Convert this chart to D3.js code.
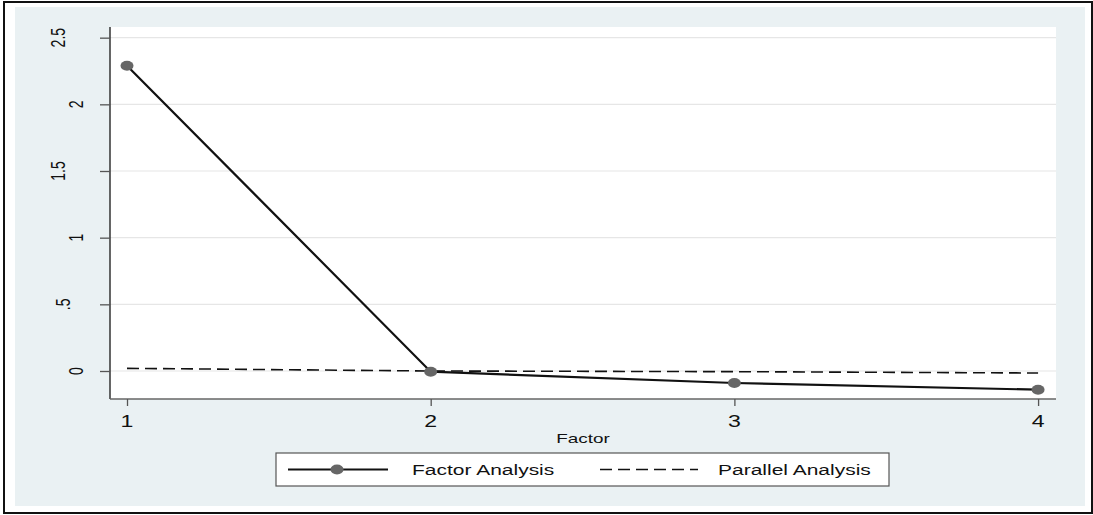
<!DOCTYPE html>
<html>
<head>
<meta charset="utf-8">
<script src="https://cdn.jsdelivr.net/npm/d3@7"></script>
<style>
  body { margin: 0; background: #fff; }
  text { font-family: "Liberation Sans", Arial, sans-serif; fill: #111; }
</style>
</head>
<body>
<svg id="chart" width="1093" height="515"></svg>
<script>
let factors = [1, 2, 3, 4];
let factorAnalysis = [2.29, -0.005, -0.09, -0.14];
let parallelAnalysis = [0.02, 0.0, -0.005, -0.015];
let yTicks = [0, 0.5, 1, 1.5, 2, 2.5];
let yTickLabels = ["0", ".5", "1", "1.5", "2", "2.5"];
let legendLabels = ["Factor Analysis", "Parallel Analysis"];

let svg = d3.select("#chart");
let stretch = 1.4; // glyphs in the picture are wider than tall

// outer frame + graph region
svg.append("rect").attr("x", 4).attr("y", 2).attr("width", 1088).attr("height", 511)
    .attr("fill", "#fff").attr("stroke", "#111").attr("stroke-width", 2);
svg.append("rect").attr("x", 15).attr("y", 7).attr("width", 1070).attr("height", 499)
    .attr("fill", "#eaf1f3");

let plot = {left: 110, right: 1056, top: 27, bottom: 399};

let x = d3.scaleLinear().domain([0.944, 4.059]).range([plot.left, plot.right]);
let y = d3.scaleLinear().domain([-0.21, 2.58]).range([plot.bottom, plot.top]);

svg.append("rect")
    .attr("x", plot.left).attr("y", plot.top)
    .attr("width", plot.right - plot.left).attr("height", plot.bottom - plot.top)
    .attr("fill", "#fff");

// gridlines
svg.selectAll(".grid").data(yTicks).enter().append("line")
    .attr("x1", plot.left).attr("x2", plot.right)
    .attr("y1", d => y(d)).attr("y2", d => y(d))
    .attr("stroke", "#e6e6e6").attr("stroke-width", 1.2);

// y axis
let yAxis = svg.append("g").attr("transform", "translate(" + plot.left + ",0)")
    .call(d3.axisLeft(y).tickValues(yTicks).tickSize(10).tickSizeOuter(0).tickFormat(""));
yAxis.select(".domain").attr("stroke", "#333").attr("stroke-width", 1.5)
    .attr("d", "M0," + plot.top + "V" + plot.bottom);
yAxis.selectAll(".tick line").attr("stroke", "#555").attr("stroke-width", 1.3);

svg.selectAll(".ylab").data(yTicks).enter().append("text")
    .attr("transform", function(d, i) {
      let lab = yTickLabels[i];
      let cx = lab.length === 1 ? 83 : lab.length === 2 ? 70 : 65;
      return "translate(" + cx + "," + y(d) + ") scale(" + stretch + ",1) rotate(-90)";
    })
    .attr("text-anchor", "middle")
    .style("font-size", "14px")
    .text((d, i) => yTickLabels[i]);

// x axis
let xAxis = svg.append("g").attr("transform", "translate(0," + plot.bottom + ")")
    .call(d3.axisBottom(x).tickValues(factors).tickSize(7).tickSizeOuter(0).tickFormat(""));
xAxis.select(".domain").attr("stroke", "#666").attr("stroke-width", 1.5)
    .attr("d", "M" + plot.left + ",0H" + plot.right);
xAxis.selectAll(".tick line").attr("stroke", "#555").attr("stroke-width", 1.3);

svg.selectAll(".xlab").data(factors).enter().append("text")
    .attr("transform", d => "translate(" + x(d) + ",427) scale(" + stretch + ",1)")
    .attr("text-anchor", "middle")
    .style("font-size", "16.5px")
    .text(d => d);

svg.append("text")
    .attr("transform", "translate(" + ((plot.left + plot.right) / 2) + ",443) scale(" + stretch + ",1)")
    .attr("text-anchor", "middle")
    .style("font-size", "13.5px")
    .text("Factor");

// lines
let lineFa = d3.line().x((d, i) => x(factors[i])).y(d => y(d));
svg.append("path").datum(parallelAnalysis)
    .attr("d", lineFa).attr("fill", "none")
    .attr("stroke", "#111").attr("stroke-width", 1.6)
    .attr("stroke-dasharray", "12,6");
svg.append("path").datum(factorAnalysis)
    .attr("d", lineFa).attr("fill", "none")
    .attr("stroke", "#111").attr("stroke-width", 2.2);
svg.selectAll(".dot").data(factorAnalysis).enter().append("ellipse")
    .attr("cx", (d, i) => x(factors[i])).attr("cy", d => y(d))
    .attr("rx", 6.5).attr("ry", 5)
    .attr("fill", "#666");

// legend
let lg = svg.append("g");
lg.append("rect").attr("x", 276).attr("y", 453).attr("width", 613).attr("height", 33)
    .attr("fill", "#fff").attr("stroke", "#555").attr("stroke-width", 1.2);
lg.append("line").attr("x1", 288).attr("x2", 388).attr("y1", 469.5).attr("y2", 469.5)
    .attr("stroke", "#111").attr("stroke-width", 2.2);
lg.append("ellipse").attr("cx", 337).attr("cy", 469.5).attr("rx", 6.5).attr("ry", 5).attr("fill", "#666");
lg.append("line").attr("x1", 600).attr("x2", 698).attr("y1", 469.5).attr("y2", 469.5)
    .attr("stroke", "#111").attr("stroke-width", 1.6).attr("stroke-dasharray", "12,6");
lg.selectAll(".ltext").data(legendLabels).enter().append("text")
    .attr("transform", (d, i) => "translate(" + (i === 0 ? 412 : 718) + ",475) scale(" + stretch + ",1)")
    .style("font-size", "15px")
    .text(d => d);
</script>
</body>
</html>
